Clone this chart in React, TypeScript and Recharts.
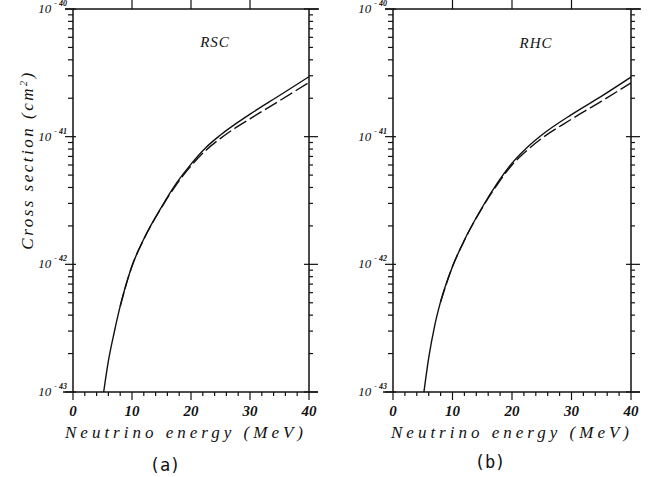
import { LineChart, Line, XAxis, YAxis } from 'recharts'

// neutrino energy (MeV)
const energy = [5.2, 6, 7, 8, 10, 12, 15, 17.5, 20, 22.5, 25, 30, 35, 40]
// cross sections (cm^2), panel (a) RSC
const rscSolid = [1.0e-43, 1.75e-43, 2.95e-43, 4.7e-43, 9.7e-43, 1.58e-42, 2.81e-42, 4.3e-42, 6.1e-42, 8.2e-42, 1.03e-41, 1.5e-41, 2.1e-41, 2.95e-41]
const rscDashed = [null, null, null, 4.7e-43, 9.7e-43, 1.57e-42, 2.78e-42, 4.2e-42, 5.9e-42, 7.8e-42, 9.7e-42, 1.38e-41, 1.91e-41, 2.66e-41]
// panel (b) RHC
const rhcSolid = [1.0e-43, 1.85e-43, 3.3e-43, 5.1e-43, 9.6e-43, 1.55e-42, 2.8e-42, 4.3e-42, 6.2e-42, 8.2e-42, 1.03e-41, 1.49e-41, 2.07e-41, 2.93e-41]
const rhcDashed = [null, null, null, 5.1e-43, 9.6e-43, 1.54e-42, 2.77e-42, 4.2e-42, 6.0e-42, 7.8e-42, 9.7e-42, 1.37e-41, 1.89e-41, 2.64e-41]

const xTicks = [0, 2, 4, 6, 8, 10, 12, 14, 16, 18, 20, 22, 24, 26, 28, 30, 32, 34, 36, 38, 40]
const topTicks = [10, 20, 30]
const decades = [-43, -42, -41]
const mantissas = [1, 2, 3, 4, 5, 6, 7, 8, 9]
const yTicks = [...decades.flatMap((d) => mantissas.map((m) => m * Math.pow(10, d))), 1e-40]

const INK = '#111'
const serif = '"Liberation Serif", "DejaVu Serif", serif'
const PLOT_TOP = 9

const isDecade = (v: number) => Math.abs(Math.log10(v) - Math.round(Math.log10(v))) < 1e-6

function LeftTick(props: any) {
  const x = Number(props.x)
  const y = Number(props.y)
  const major = isDecade(props.payload.value)
  const exp = Math.round(Math.log10(props.payload.value))
  return (
    <g>
      <path d={`M${x - (major ? 8 : 5)},${y}H${x + (major ? 3 : 0)}`} stroke={INK} strokeWidth={1.2} fill="none" />
      {major && (
        <text x={x - 6} y={y + 4} textAnchor="end" fill={INK} stroke="none" fontFamily={serif} fontStyle="italic" fontSize={13}>
          10
          <tspan dx={3} dy={-7} fontSize={8} fontWeight="bold">{`- ${-exp}`}</tspan>
        </text>
      )}
    </g>
  )
}

function RightTick(props: any) {
  const x = Number(props.x)
  const y = Number(props.y)
  const major = isDecade(props.payload.value)
  return <path d={`M${x - (major ? 5 : 0)},${y}H${x + (major ? 9 : 4)}`} stroke={INK} strokeWidth={1.2} fill="none" />
}

// bottom ticks also draw the matching top-frame ticks and the frame overhangs
function BottomTick(props: any) {
  const x = Number(props.x)
  const y = Number(props.y)
  const v = props.payload.value
  const major = v % 10 === 0
  return (
    <g>
      <path d={`M${x},${y}V${y + (major ? 8 : 4)}`} stroke={INK} strokeWidth={1.2} fill="none" />
      {topTicks.includes(v) && <path d={`M${x},${PLOT_TOP}V0`} stroke={INK} strokeWidth={1.2} fill="none" />}
      {v === 0 && <path d={`M${x - 10},${y}H${x}M${x - 8},${PLOT_TOP}H${x}`} stroke={INK} strokeWidth={1.5} fill="none" />}
      {v === 40 && <path d={`M${x},${y}H${x + 9}M${x},${PLOT_TOP}H${x + 10}`} stroke={INK} strokeWidth={1.5} fill="none" />}
      {major && (
        <text x={x} y={y + 24} textAnchor="middle" fill={INK} stroke="none" fontFamily={serif} fontStyle="italic" fontWeight="bold" fontSize={15}>
          {v}
        </text>
      )}
    </g>
  )
}

function Panel({ solid, dashed, left, width, rightWidth }: any) {
  const rows = energy.map((e, i) => ({ e, solid: solid[i], dashed: dashed[i] }))
  return (
    <div style={{ position: 'absolute', left, top: 0 }}>
      <LineChart width={width} height={477} data={rows} margin={{ top: 0, right: 0, left: 0, bottom: 55 }}>
        <XAxis dataKey="e" type="number" domain={[0, 40]} allowDataOverflow ticks={xTicks} interval={0} height={30}
          tickSize={0} tickMargin={0} tickLine={false} tick={<BottomTick />} axisLine={{ stroke: INK, strokeWidth: 1.5 }} />
        <XAxis xAxisId="t" orientation="top" type="number" domain={[0, 40]} allowDataOverflow ticks={[]} height={PLOT_TOP}
          tickLine={false} tick={false} axisLine={{ stroke: INK, strokeWidth: 1.5 }} />
        <YAxis scale="log" type="number" domain={[1e-43, 1e-40]} allowDataOverflow ticks={yTicks} interval={0} width={73}
          tickSize={0} tickMargin={0} tickLine={false} tick={<LeftTick />} axisLine={{ stroke: INK, strokeWidth: 1.5 }} />
        <YAxis yAxisId="r" orientation="right" scale="log" type="number" domain={[1e-43, 1e-40]} allowDataOverflow ticks={yTicks}
          interval={0} width={rightWidth} tickSize={0} tickMargin={0} tickLine={false} tick={<RightTick />} axisLine={{ stroke: INK, strokeWidth: 1.5 }} />
        <Line dataKey="solid" type="monotone" stroke={INK} strokeWidth={1.4} dot={false} isAnimationActive={false} />
        <Line dataKey="dashed" type="monotone" stroke={INK} strokeWidth={1.4} strokeDasharray="14 4" dot={false} isAnimationActive={false} />
      </LineChart>
    </div>
  )
}

const label = (text: string, x: number, y: number, style: any) => (
  <div style={{ position: 'absolute', left: x, top: y, transform: 'translate(-50%, -50%)', whiteSpace: 'nowrap', color: INK, ...style }}>
    {text}
  </div>
)

export default function App() {
  const axisTitle = { fontFamily: serif, fontStyle: 'italic', fontSize: 17, letterSpacing: 4 }
  return (
    <div style={{ position: 'absolute', left: 0, top: 0, width: 653, height: 477, background: '#fff', overflow: 'hidden' }}>
      <Panel solid={rscSolid} dashed={rscDashed} left={0} width={330} rightWidth={21} />
      <Panel solid={rhcSolid} dashed={rhcDashed} left={320} width={333} rightWidth={22} />
      {label('RSC', 215, 42, { fontFamily: serif, fontStyle: 'italic', fontSize: 15, letterSpacing: 1 })}
      {label('RHC', 536, 43, { fontFamily: serif, fontStyle: 'italic', fontSize: 15, letterSpacing: 1 })}
      <div style={{ position: 'absolute', left: 28, top: 160, transform: 'translate(-50%, -50%) rotate(-90deg)', whiteSpace: 'nowrap', color: INK, ...axisTitle, letterSpacing: 2.5 }}>
        Cross section (cm<sup style={{ fontSize: 10 }}>2</sup>)
      </div>
      {label('Neutrino energy (MeV)', 186, 433, axisTitle)}
      {label('Neutrino energy (MeV)', 512, 433, axisTitle)}
      {label('(a)', 165, 465, { fontFamily: '"DejaVu Sans Mono", monospace', fontSize: 17 })}
      {label('(b)', 490, 462, { fontFamily: '"DejaVu Sans Mono", monospace', fontSize: 17 })}
    </div>
  )
}
